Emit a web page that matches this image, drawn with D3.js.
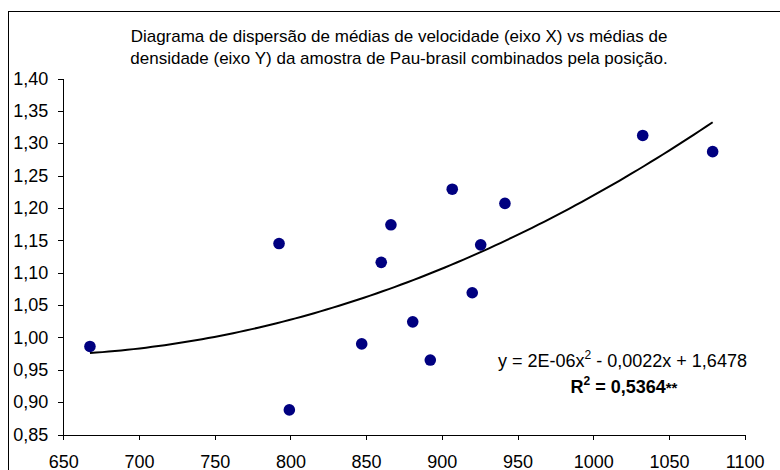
<!DOCTYPE html>
<html lang="en">
<head>
    <meta charset="UTF-8">
    <title>dispersao</title>
    <script src="https://d3js.org/d3.v7.min.js"></script>
    <style>
        body { margin: 0; background: #fff; }
        .axis path,
        .axis line {
            fill: none;
            stroke: black;
            shape-rendering: crispEdges;
        }
        .axis text {
            font-family: "Liberation Sans", Arial, sans-serif;
            font-size: 18px;
            fill: black;
        }
    </style>
</head>
<body>
<script>
    // medias de velocidade (X) e densidade (Y)
    const velocidade = [667.6, 792.5, 799.3, 847.1, 860.0, 866.4, 880.8, 892.4, 906.9, 920.1, 925.7, 941.7, 1032.7, 1078.9]
    const densidade = [0.986, 1.145, 0.888, 0.990, 1.116, 1.174, 1.024, 0.965, 1.229, 1.069, 1.143, 1.207, 1.312, 1.287]
    const xTicks = [650, 700, 750, 800, 850, 900, 950, 1000, 1050, 1100]
    const yTicks = [0.85, 0.90, 0.95, 1.00, 1.05, 1.10, 1.15, 1.20, 1.25, 1.30, 1.35, 1.40]
    const titulo = ['Diagrama de dispersão de médias de velocidade (eixo X) vs médias de',
        'densidade (eixo Y) da amostra de Pau-brasil combinados pela posição.']

    const width = 780
    const height = 470
    const fmt = d3.format('.2f')
    const fonte = '"Liberation Sans", Arial, sans-serif'

    const svg = d3.select('body').append('svg')
        .attr('width', width)
        .attr('height', height)

    // moldura
    svg.append('rect')
        .attr('x', 8.5).attr('y', 11.5)
        .attr('width', 800).attr('height', 500)
        .attr('fill', 'none').attr('stroke', 'black')

    const xScale = d3.scaleLinear().domain([650, 1100]).range([63.3, 744.6])
    const yScale = d3.scaleLinear().domain([0.85, 1.40]).range([434.5, 78.5])

    const xAxis = d3.axisBottom(xScale).tickValues(xTicks).tickSize(5).tickPadding(16).tickSizeOuter(0)
        .tickFormat(d3.format('d'))
    const yAxis = d3.axisLeft(yScale).tickValues(yTicks).tickSize(5).tickPadding(10).tickSizeOuter(0)
        .tickFormat(function (d) { return fmt(d).replace('.', ',') })

    svg.append('g').attr('class', 'axis')
        .attr('transform', 'translate(0,' + yScale(0.85) + ')')
        .call(xAxis)
    svg.append('g').attr('class', 'axis')
        .attr('transform', 'translate(' + xScale(650) + ',0)')
        .call(yAxis)

    // linha de tendencia polinomial (ordem 2) por minimos quadrados
    function ajuste(xs, ys) {
        let s = [0, 0, 0, 0, 0], t = [0, 0, 0]
        for (let i = 0; i < xs.length; i++) {
            const u = xs[i] - 900
            for (let k = 0; k < 5; k++) s[k] += Math.pow(u, k)
            for (let k = 0; k < 3; k++) t[k] += ys[i] * Math.pow(u, k)
        }
        const m = [[s[0], s[1], s[2], t[0]], [s[1], s[2], s[3], t[1]], [s[2], s[3], s[4], t[2]]]
        for (let i = 0; i < 3; i++) {
            for (let j = i + 1; j < 3; j++) {
                const f = m[j][i] / m[i][i]
                for (let k = i; k < 4; k++) m[j][k] -= f * m[i][k]
            }
        }
        const c = [0, 0, 0]
        for (let i = 2; i >= 0; i--) {
            let v = m[i][3]
            for (let k = i + 1; k < 3; k++) v -= m[i][k] * c[k]
            c[i] = v / m[i][i]
        }
        return function (x) { const u = x - 900; return c[0] + c[1] * u + c[2] * u * u }
    }
    const tendencia = ajuste(velocidade, densidade)
    const xMin = d3.min(velocidade), xMax = d3.max(velocidade)
    const curva = d3.range(0, 101).map(function (i) {
        const x = xMin + (xMax - xMin) * i / 100
        return [x, tendencia(x)]
    })
    svg.append('path')
        .datum(curva)
        .attr('fill', 'none')
        .attr('stroke', 'black')
        .attr('stroke-width', 2)
        .attr('d', d3.line()
            .x(function (d) { return xScale(d[0]) })
            .y(function (d) { return yScale(d[1]) }))

    svg.append('g').selectAll('circle')
        .data(velocidade)
        .enter()
        .append('circle')
        .attr('cx', function (d) { return xScale(d) })
        .attr('cy', function (d, i) { return yScale(densidade[i]) })
        .attr('r', 5.8)
        .attr('fill', '#000080')

    svg.append('g').selectAll('text')
        .data(titulo)
        .enter()
        .append('text')
        .text(function (d) { return d })
        .attr('x', 399)
        .attr('y', function (d, i) { return 41.5 + i * 22 })
        .attr('text-anchor', 'middle')
        .attr('font-family', fonte)
        .attr('font-size', 17)

    // equacao
    const eq = svg.append('text')
        .attr('x', 622.5).attr('y', 367)
        .attr('text-anchor', 'middle')
        .attr('font-family', fonte)
        .attr('font-size', 18)
    eq.append('tspan').text('y = 2E-06x')
    eq.append('tspan').text('2').attr('font-size', 12).attr('dy', -8)
    eq.append('tspan').text(' - 0,0022x + 1,6478').attr('dy', 8)

    const r2 = svg.append('text')
        .attr('x', 624).attr('y', 393)
        .attr('text-anchor', 'middle')
        .attr('font-family', fonte)
        .attr('font-size', 18)
        .attr('font-weight', 'bold')
    r2.append('tspan').text('R')
    r2.append('tspan').text('2').attr('font-size', 12).attr('dy', -8)
    r2.append('tspan').text(' = 0,5364').attr('dy', 8)
    r2.append('tspan').text('**').attr('font-size', 15)
</script>
</body>
</html>
